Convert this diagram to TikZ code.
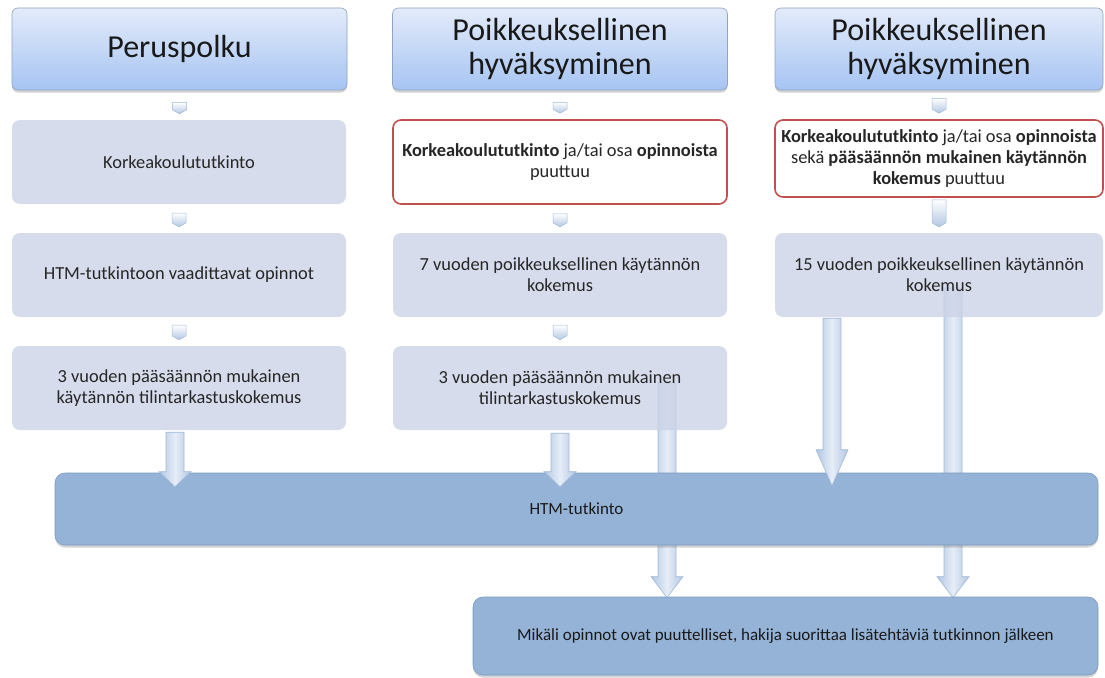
\documentclass[tikz,border=0pt]{standalone}
\usepackage{fontspec}
\setmainfont{Carlito}
\usepackage{tikz}
\usetikzlibrary{calc,shadows}
\pgfdeclarelayer{back}
\pgfsetlayers{back,main}

\definecolor{hdtop}{HTML}{E3EBFA}
\definecolor{hdbot}{HTML}{A6C4F2}
\definecolor{hdline}{HTML}{8FA4C2}
\definecolor{stepfill}{HTML}{CCD3E7}
\definecolor{redline}{HTML}{C0504D}
\definecolor{htmfill}{HTML}{95B3D7}
\definecolor{htmline}{HTML}{7D99BF}
\definecolor{arrlight}{HTML}{E6EDF7}
\definecolor{arrdark}{HTML}{B2C7E3}
\definecolor{arrline}{HTML}{A2B9D8}

% small chevron between two boxes of a column
\newcommand{\smallarrow}[3]{%
  \shade[smallarr] let \p1=(#1.south), \p2=(#2.north) in
    (\x1-7pt,\y1-#3pt) -- (\x1+7pt,\y1-#3pt) -- (\x1+7pt,\y2+10pt)
    -- (\x1,\y2+6pt) -- (\x1-7pt,\y2+10pt) -- cycle;}
% big block arrow from a start point down to its tip
\newcommand{\bigarrow}[3]{%
  \shade[bigarr] let \p1=(#1), \p2=(#2) in
    (\x1-9pt,\y1) -- (\x1+9pt,\y1) -- (\x1+9pt,\y2+#3pt) -- (\x1+16pt,\y2+#3pt)
    -- (\x1,\y2) -- (\x1-16pt,\y2+#3pt) -- (\x1-9pt,\y2+#3pt) -- cycle;}

\begin{document}
\begin{tikzpicture}[x=1pt, y=-1pt,
  headbox/.style={rounded corners=6pt, top color=hdtop, bottom color=hdbot,
    draw=hdline, line width=0.6pt, minimum width=335pt, minimum height=82pt,
    inner sep=0pt, align=center, text=black!90,
    font=\fontsize{32}{34}\selectfont,
    drop shadow={shadow xshift=0pt, shadow yshift=-2.5pt, opacity=0.35}},
  stepbox/.style={rounded corners=8pt, fill=stepfill, fill opacity=0.8,
    text opacity=1, minimum width=334pt, minimum height=84pt, inner sep=0pt,
    align=center, text=black!85, font=\fontsize{18.4}{21}\selectfont},
  redbox/.style={stepbox, fill=white, fill opacity=1, draw=redline,
    line width=1.6pt},
  endbox/.style={rounded corners=10pt, fill=htmfill, draw=htmline,
    line width=0.6pt, inner sep=0pt, align=center, text=black!90,
    font=\fontsize{17}{20}\selectfont,
    drop shadow={shadow xshift=0pt, shadow yshift=-2.5pt, opacity=0.35}},
  smallarr/.style={top color=white, bottom color=arrdark, draw=arrline,
    line width=0.5pt},
  bigarr/.style={left color=arrdark, right color=arrdark, middle color=arrlight,
    draw=arrline, line width=0.6pt}]
\useasboundingbox (0,0) rectangle (1105,677);

%%%%% Headers %%%%%
\node[headbox] (h1) at (179.5,49) {Peruspolku};
\node[headbox] (h2) at (560,49) {Poikkeuksellinen\\hyväksyminen};
\node[headbox, minimum width=328pt] (h3) at (939,49) {Poikkeuksellinen\\hyväksyminen};

%%%%% Steps %%%%%
\node[stepbox] (b11) at (179,162) {Korkeakoulututkinto};
\node[stepbox] (b12) at (179,275) {HTM-tutkintoon vaadittavat opinnot};
\node[stepbox] (b13) at (179,388) {3 vuoden pääsäännön mukainen\\käytännön tilintarkastuskokemus};

\node[redbox] (b21) at (560,162) {\textbf{Korkeakoulututkinto} ja/tai osa \textbf{opinnoista}\\puuttuu};
\node[stepbox] (b22) at (560,275) {7 vuoden poikkeuksellinen käytännön\\kokemus};
\node[stepbox] (b23) at (560,388) {3 vuoden pääsäännön mukainen\\tilintarkastuskokemus};

\node[redbox, minimum width=328pt, minimum height=77pt] (b31) at (939,158.5)
  {\textbf{Korkeakoulututkinto} ja/tai osa \textbf{opinnoista}\\sekä \textbf{pääsäännön mukainen käytännön}\\\textbf{kokemus} puuttuu};
\node[stepbox, minimum width=328pt] (b32) at (939,275) {15 vuoden poikkeuksellinen käytännön\\kokemus};

\foreach \a/\b/\g in {h1/b11/12, b11/b12/9, b12/b13/8, h2/b21/12, b21/b22/9,
  b22/b23/8, h3/b31/8, b31/b32/2}
  \smallarrow{\a}{\b}{\g};

%%%%% Result %%%%%
\node[endbox, minimum width=1043pt, minimum height=72pt] (htm) at (576.5,509) {HTM-tutkinto};
\node[endbox, minimum width=625pt, minimum height=78pt] (lisa) at (785.5,636)
  {Mikäli opinnot ovat puuttelliset, hakija suorittaa lisätehtäviä tutkinnon jälkeen};

%%%%% Arrows %%%%%
\coordinate (a1s) at ($(b13.south)+(-4,2)$);
\coordinate (a1t) at ($(b13.south |- htm.north)+(-4,14)$);
\coordinate (a2s) at ($(b23.south)+(0,3)$);
\coordinate (a2t) at ($(b23.south |- htm.north)+(0,14)$);
\coordinate (a3s) at ($(b23.center)+(107,-5)$);
\coordinate (a3t) at ($(a3s |- lisa.north)+(0,1)$);
\coordinate (a4s) at ($(b32.south)+(-107,1)$);
\coordinate (a4t) at ($(a4s |- htm.north)+(0,13)$);
\coordinate (a5s) at ($(b32.center)+(14,13)$);
\coordinate (a5t) at ($(a5s |- lisa.north)+(0,1)$);

\begin{pgfonlayer}{back}
\bigarrow{a3s}{a3t}{21}
\bigarrow{a5s}{a5t}{21}
\end{pgfonlayer}
\bigarrow{a1s}{a1t}{15}
\bigarrow{a2s}{a2t}{15}
\bigarrow{a4s}{a4t}{36}

\end{tikzpicture}
\end{document}
